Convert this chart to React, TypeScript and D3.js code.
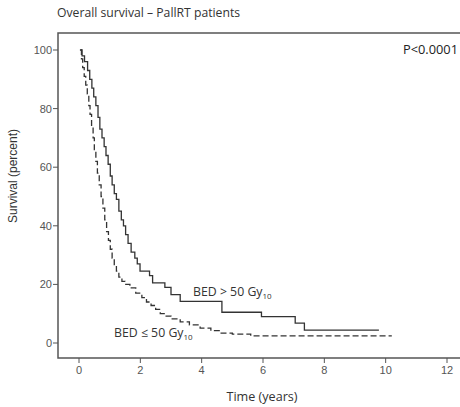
import React from "react";
import * as d3 from "d3";

const title = "Overall survival \u2013 PallRT patients";
const pValue = "P<0.0001";
const xTicks = [0, 2, 4, 6, 8, 10, 12];
const yTicks = [0, 20, 40, 60, 80, 100];

// BED > 50 Gy10 (solid)
const highTimes = [0.03, 0.1, 0.18, 0.28, 0.35, 0.42, 0.48, 0.55, 0.62, 0.68, 0.75, 0.82, 0.88, 0.95, 1.02, 1.08, 1.15, 1.22, 1.3, 1.38, 1.45, 1.52, 1.6, 1.7, 1.82, 1.9, 1.99, 2.3, 2.4, 2.8, 3.0, 3.3, 4.66, 5.95, 7.05, 7.35, 9.78];
const highSurv = [100, 98, 96, 93, 90, 87, 84, 81, 77, 73, 70, 67, 64, 61, 57, 54, 51, 49, 45, 42, 40, 37, 34, 31, 29, 27, 24.5, 23, 20.5, 19, 16.5, 14.2, 10.5, 9, 6.8, 4.4, 4.4];

// BED <= 50 Gy10 (dashed)
const lowTimes = [0.05, 0.08, 0.12, 0.17, 0.22, 0.27, 0.32, 0.36, 0.41, 0.46, 0.5, 0.55, 0.6, 0.66, 0.72, 0.78, 0.84, 0.9, 0.96, 1.02, 1.08, 1.15, 1.22, 1.3, 1.4, 1.5, 1.66, 1.85, 2.05, 2.2, 2.35, 2.5, 2.65, 2.8, 3.0, 3.3, 3.6, 3.95, 4.3, 4.6, 5.0, 5.6, 10.2];
const lowSurv = [100, 97, 94, 91, 88, 85, 81, 78, 74, 70, 66, 62, 58, 54, 50, 46, 42, 38, 35, 32, 29, 26.5, 24.5, 22.5, 21, 20, 18.8, 17, 15.5, 14, 12.8, 11.5, 10, 9.2, 8.2, 7.2, 6.2, 5.1, 4.2, 3.4, 3.0, 2.4, 2.4];

export default function App() {
  const W = 460, H = 407;
  const x = d3.scaleLinear().domain([0, 12]).range([79, 447]);
  const y = d3.scaleLinear().domain([0, 100]).range([343, 50]);
  const line = d3.line<[number, number]>().x(d => x(d[0])).y(d => y(d[1])).curve(d3.curveStepAfter);
  const high = highTimes.map((t, i) => [t, highSurv[i]] as [number, number]);
  const low = lowTimes.map((t, i) => [t, lowSurv[i]] as [number, number]);
  const frameL = 58, frameT = 33, frameB = 358, frameR = 463;
  const axisColor = "#555";
  const lbl = "'Liberation Sans', Arial, sans-serif";
  const txt = "'Open Sans', 'DejaVu Sans', sans-serif";
  return (
    <svg width={W} height={H} style={{ position: "absolute", left: 0, top: 0, background: "#fff" }}>
      <text x={57} y={17} fontFamily={txt} fontSize={12.2} fill="#333">{title}</text>
      <rect x={frameL} y={frameT} width={frameR - frameL} height={frameB - frameT} fill="none" stroke={axisColor} strokeWidth={1.5} />
      {yTicks.map(v => (
        <g key={"y" + v}>
          <line x1={frameL - 5} x2={frameL} y1={y(v)} y2={y(v)} stroke={axisColor} strokeWidth={1} />
          <text x={frameL - 6} y={y(v) + 4} textAnchor="end" fontFamily={lbl} fontSize={11} fill="#555">{v}</text>
        </g>
      ))}
      {xTicks.map(v => (
        <g key={"x" + v}>
          <line x1={x(v)} x2={x(v)} y1={frameB} y2={frameB + 5} stroke={axisColor} strokeWidth={1} />
          <text x={x(v)} y={frameB + 16} textAnchor="middle" fontFamily={lbl} fontSize={11} fill="#555">{v}</text>
        </g>
      ))}
      <text transform={`translate(17,176) rotate(-90)`} textAnchor="middle" fontFamily={lbl} fontSize={12} fill="#333">Survival (percent)</text>
      <text x={262} y={401} textAnchor="middle" fontFamily={txt} fontSize={12.6} fill="#333">Time (years)</text>
      <text x={458} y={54} textAnchor="end" fontFamily={txt} fontSize={12.8} fill="#222">{pValue}</text>
      <path d={line(high) || ""} fill="none" stroke="#333" strokeWidth={1.3} />
      <path d={line(low) || ""} fill="none" stroke="#333" strokeWidth={1.3} strokeDasharray="6,3" />
      <text x={193} y={296} fontFamily={txt} fontSize={12.3} fill="#333">BED &gt; 50 Gy<tspan fontSize={8} dy={3}>10</tspan></text>
      <text x={114} y={337} fontFamily={txt} fontSize={12.3} fill="#333">BED ≤ 50 Gy<tspan fontSize={8} dy={3}>10</tspan></text>
    </svg>
  );
}
